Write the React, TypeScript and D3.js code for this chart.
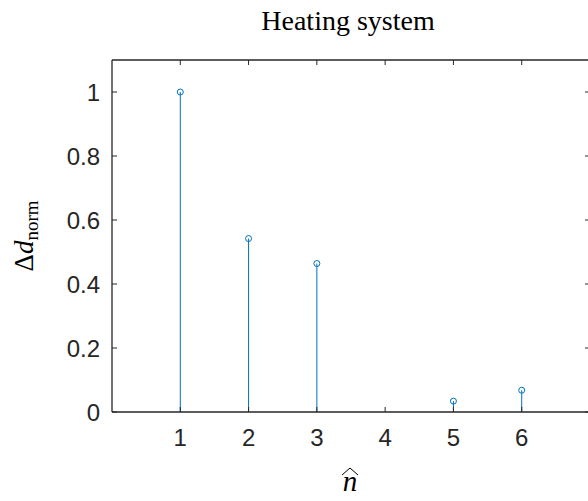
import React from "react";
import * as d3 from "d3";

// Normalised distance change per component
const nValues = [1, 2, 3, 5, 6];
const dNorm = [1.0, 0.542, 0.464, 0.034, 0.068];
const xTicks = [1, 2, 3, 4, 5, 6];
const yTicks = [0, 0.2, 0.4, 0.6, 0.8, 1];
const titleText = "Heating system";

const W = 588;
const H = 501;
const margin = { left: 112, top: 60, right: 590, bottom: 412 };
const axisColor = "#262626";
const stemColor = "#0072BD";

export default function App() {
  const x = d3.scaleLinear().domain([0, 7]).range([margin.left, margin.right]);
  const y = d3.scaleLinear().domain([0, 1.1]).range([margin.bottom, margin.top]);
  const tickLen = 5;
  const sans = "'Liberation Sans', Arial, Helvetica, sans-serif";
  const serif = "'Liberation Serif', 'Times New Roman', serif";
  const cx = (margin.left + margin.right) / 2;
  const cy = (margin.top + margin.bottom) / 2;

  return (
    <svg
      width={W}
      height={H}
      style={{ position: "absolute", left: 0, top: 0, background: "#fff" }}
    >
      <rect x={0} y={0} width={W} height={H} fill="#fff" />
      {/* title */}
      <text x={348} y={30} textAnchor="middle" fontFamily={serif} fontSize={28} fill="#000">
        {titleText}
      </text>

      {/* stems */}
      {nValues.map((n, i) => (
        <g key={n}>
          <line
            x1={x(n)}
            x2={x(n)}
            y1={y(0)}
            y2={y(dNorm[i])}
            stroke={stemColor}
            strokeWidth={1}
          />
          <circle
            cx={x(n)}
            cy={y(dNorm[i])}
            r={3}
            fill="none"
            stroke={stemColor}
            strokeWidth={1}
          />
        </g>
      ))}

      {/* axes box */}
      <line x1={margin.left} x2={margin.right} y1={margin.bottom} y2={margin.bottom} stroke={axisColor} strokeWidth={1.3} />
      <line x1={margin.left} x2={margin.right} y1={margin.top} y2={margin.top} stroke={axisColor} strokeWidth={1.3} />
      <line x1={margin.left} x2={margin.left} y1={margin.top} y2={margin.bottom} stroke={axisColor} strokeWidth={1.3} />
      <line x1={margin.right} x2={margin.right} y1={margin.top} y2={margin.bottom} stroke={axisColor} strokeWidth={1.3} />

      {/* x ticks */}
      {xTicks.map((t) => (
        <g key={`x${t}`}>
          <line x1={x(t)} x2={x(t)} y1={margin.bottom} y2={margin.bottom - tickLen} stroke={axisColor} />
          <line x1={x(t)} x2={x(t)} y1={margin.top} y2={margin.top + tickLen} stroke={axisColor} />
          <text x={x(t)} y={446} textAnchor="middle" fontFamily={sans} fontSize={24} fill={axisColor}>
            {t}
          </text>
        </g>
      ))}

      {/* y ticks */}
      {yTicks.map((t) => (
        <g key={`y${t}`}>
          <line x1={margin.left} x2={margin.left + tickLen} y1={y(t)} y2={y(t)} stroke={axisColor} />
          <line x1={margin.right} x2={margin.right - tickLen} y1={y(t)} y2={y(t)} stroke={axisColor} />
          <text x={100} y={y(t) + 8.5} textAnchor="end" fontFamily={sans} fontSize={24} fill={axisColor}>
            {t}
          </text>
        </g>
      ))}

      {/* y label */}
      <text
        transform={`translate(33,${cy}) rotate(-90)`}
        textAnchor="middle"
        fontFamily={serif}
        fontSize={27}
        fill="#000"
      >
        <tspan fontStyle="normal">Δ</tspan>
        <tspan fontStyle="italic">d</tspan>
        <tspan fontSize={19} dy={5}>norm</tspan>
      </text>

      {/* x label: n with a wide hat */}
      <text x={cx - 1} y={491} textAnchor="middle" fontFamily={serif} fontStyle="italic" fontSize={29} fill="#000">
        n
      </text>
      <path
        d={`M${cx - 9},${475} L${cx - 1},${468} L${cx + 7},${475}`}
        fill="none"
        stroke="#000"
        strokeWidth={1}
      />
    </svg>
  );
}
